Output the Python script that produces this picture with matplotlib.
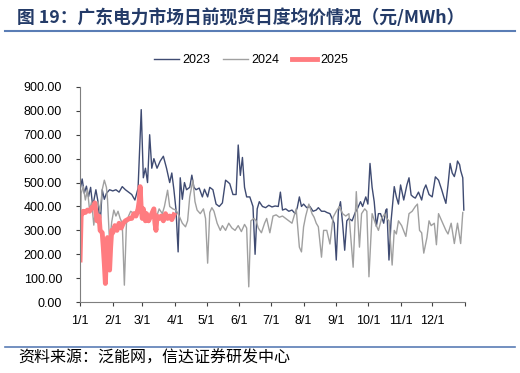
import numpy as np
import matplotlib
matplotlib.use("Agg")
import matplotlib.pyplot as plt
from matplotlib.lines import Line2D

plt.rcParams['font.family'] = ['Liberation Sans', 'Noto Sans CJK SC', 'DejaVu Sans']

# 日度均价（元/MWh），按年内天数读取
days_2023 = [0, 2, 4, 6, 8, 10, 12, 15, 17, 19, 21, 23, 25, 28, 31, 34, 37, 40, 43, 46,
             49, 52, 55, 58, 60, 62, 64, 66, 68, 70, 73, 76, 79, 82, 85, 87, 89, 91, 93, 95,
             97, 99, 101, 104, 106, 108, 110, 113, 116, 118, 121, 123, 126, 129, 132, 135, 138, 140, 142, 145,
             148, 150, 152, 154, 156, 158, 161, 164, 166, 168, 170, 173, 176, 179, 182, 185, 188, 190, 192, 195,
             198, 201, 204, 206, 208, 210, 212, 215, 218, 221, 224, 226, 229, 232, 234, 237, 239, 241, 243, 245,
             247, 249, 251, 253, 255, 258, 261, 263, 266, 268, 271, 273, 275, 277, 279, 281, 283, 285, 288, 290,
             291, 293, 295, 298, 300, 302, 304, 307, 310, 312, 314, 316, 318, 321, 324, 326, 328, 331, 334, 337,
             340, 343, 345, 347, 349, 351, 353, 355, 357, 358, 360, 361, 363, 364]
price_2023 = [470, 515, 455, 485, 440, 480, 400, 470, 420, 322, 470, 430, 455, 470, 465, 470, 460, 483, 470, 460,
              450, 427, 476, 805, 520, 560, 500, 700, 560, 600, 560, 590, 610, 560, 500, 540, 470, 385, 210, 520,
              430, 500, 470, 480, 531, 480, 470, 477, 440, 472, 440, 480, 470, 410, 400, 415, 510, 503, 495, 450,
              450, 657, 530, 605, 480, 440, 440, 400, 200, 390, 420, 400, 395, 405, 398, 402, 400, 460, 385, 390,
              380, 385, 370, 395, 440, 400, 410, 395, 400, 380, 385, 395, 380, 380, 375, 370, 350, 330, 176, 380,
              420, 330, 217, 340, 350, 340, 375, 390, 420, 400, 440, 410, 580, 480, 420, 317, 370, 370, 330, 385,
              390, 176, 340, 483, 440, 410, 490, 427, 490, 520, 448, 440, 435, 460, 427, 470, 490, 450, 440, 524,
              510, 470, 440, 413, 490, 580, 540, 525, 560, 590, 575, 550, 520, 385]

days_2024 = [0, 1, 3, 5, 7, 9, 11, 13, 15, 17, 19, 21, 23, 25, 26, 28, 30, 32, 34, 36,
             38, 40, 42, 44, 46, 48, 51, 54, 57, 60, 63, 66, 69, 72, 75, 78, 80, 83, 85, 88,
             91, 94, 97, 100, 102, 104, 107, 109, 111, 114, 117, 119, 121, 123, 125, 127, 130, 133, 135, 138,
             141, 144, 147, 150, 153, 156, 158, 160, 162, 165, 167, 169, 172, 175, 177, 180, 183, 186, 189, 192,
             195, 198, 201, 203, 205, 208, 210, 212, 214, 217, 220, 222, 224, 226, 229, 231, 234, 237, 240, 243,
             246, 249, 252, 255, 259, 262, 265, 267, 270, 272, 274, 277, 280, 283, 286, 289, 291, 293, 296, 298,
             300, 302, 305, 309, 312, 315, 318, 320, 322, 324, 326, 329, 331, 333, 336, 338, 340, 342, 345, 347,
             349, 352, 355, 358, 361, 363]
price_2024 = [105, 455, 483, 427, 470, 385, 420, 322, 400, 420, 380, 470, 510, 480, 430, 247, 335, 385, 360, 380,
              350, 330, 71, 330, 360, 380, 370, 360, 380, 370, 350, 360, 380, 350, 390, 370, 400, 468, 400, 390,
              385, 360, 330, 315, 340, 440, 510, 420, 385, 370, 390, 350, 163, 375, 395, 380, 330, 300, 320, 300,
              330, 310, 300, 320, 295, 325, 310, 64, 340, 350, 340, 310, 290, 330, 350, 290, 360, 365, 355, 360,
              350, 340, 330, 360, 390, 230, 210, 315, 360, 410, 370, 355, 330, 315, 188, 300, 300, 243, 355, 380,
              400, 370, 360, 370, 146, 462, 230, 370, 390, 380, 106, 370, 330, 300, 350, 370, 350, 340, 155, 300,
              285, 340, 320, 275, 370, 380, 400, 410, 300, 290, 205, 270, 340, 320, 330, 240, 370, 350, 320, 300,
              285, 330, 245, 330, 245, 375]

days_2025 = [0, 1, 3, 5, 7, 9, 11, 13, 14, 16, 18, 19, 21, 22, 23, 24, 25, 26, 27, 28,
             29, 30, 31, 33, 35, 37, 39, 41, 43, 45, 47, 49, 51, 53, 55, 56, 57, 58, 59, 60,
             62, 63, 65, 67, 69, 70, 71, 72, 73, 75, 77, 79, 81, 83, 85, 87, 89]
price_2025 = [176, 360, 380, 375, 385, 380, 395, 400, 415, 340, 360, 300, 290, 230, 160, 78, 200, 270, 250, 134,
              230, 300, 290, 320, 300, 330, 310, 330, 340, 345, 350, 350, 370, 360, 390, 420, 483, 390, 350, 390,
              340, 370, 340, 360, 380, 390, 330, 300, 360, 350, 360, 340, 370, 350, 360, 345, 365]

month_starts = [0, 31, 59, 90, 120, 151, 181, 212, 243, 273, 304, 334]
month_labels = ['1/1', '2/1', '3/1', '4/1', '5/1', '6/1', '7/1', '8/1', '9/1', '10/1', '11/1', '12/1']

c23 = '#3F4B72'
c24 = '#A0A0A0'
c25 = '#FF7C80'

fig = plt.figure(figsize=(5.2, 3.73), dpi=100)
ax = fig.add_axes([0.154, 0.19, 0.74, 0.577])

ax.plot(days_2023, price_2023, color=c23, lw=1.0)
ax.plot(days_2024, price_2024, color=c24, lw=1.0)
ax.plot(days_2025, price_2025, color=c25, lw=3.5)

ax.set_xlim(0, 365)
ax.set_ylim(0, 900)
ax.set_yticks(np.arange(0, 901, 100))
ax.set_yticklabels(['%.2f' % v for v in np.arange(0, 901, 100)], fontsize=9)
ax.set_xticks(month_starts + [365])
ax.set_xticklabels(month_labels + [''], fontsize=9)
ax.tick_params(direction='out', length=3, width=0.8, colors='#404040', labelcolor='black')
ax.tick_params(axis='y', pad=10)
ax.tick_params(axis='x', pad=6)
for s in ['top', 'right']:
    ax.spines[s].set_visible(False)
for s in ['left', 'bottom']:
    ax.spines[s].set_color('#7F7F7F')

handles = [Line2D([], [], color=c23, lw=1.0), Line2D([], [], color=c24, lw=1.0),
           Line2D([], [], color=c25, lw=3.5)]
fig.legend(handles, ['2023', '2024', '2025'], loc='center', bbox_to_anchor=(0.483, 0.838),
           ncol=3, frameon=False, fontsize=9, handlelength=2.0, columnspacing=1.0, handletextpad=0.3)

fig.text(0.033, 0.953, '图 19：广东电力市场日前现货日度均价情况（元/MWh）', fontsize=12.8,
         fontweight='bold', color='#243B68', va='center', ha='left',
         family=['Noto Sans CJK SC', 'DejaVu Sans'])
fig.add_artist(Line2D([0.01, 0.99], [0.917, 0.917], color='#5A7DB5', lw=1.5))
fig.add_artist(Line2D([0.01, 0.99], [0.07, 0.07], color='#5A7DB5', lw=1.2))
fig.text(0.035, 0.04, '资料来源：泛能网，信达证券研发中心', fontsize=11.5, va='center', ha='left',
         family=['Noto Sans CJK SC', 'DejaVu Sans'])

fig.savefig('out.png', dpi=100)
